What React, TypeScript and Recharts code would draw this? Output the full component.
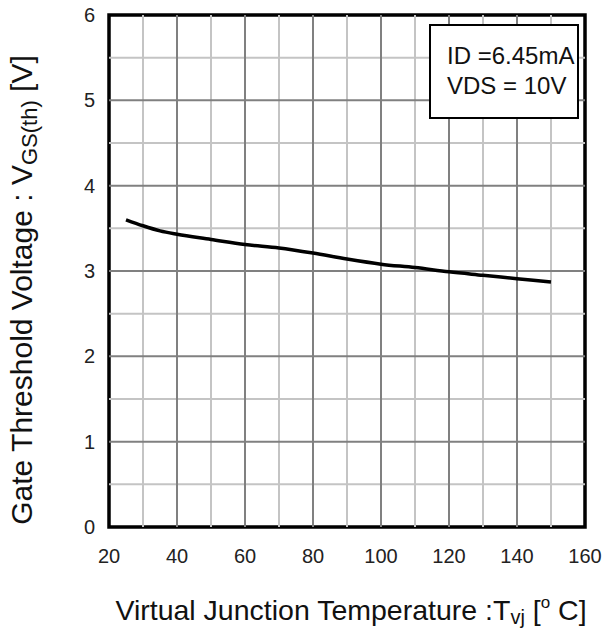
import React from "react";
import { LineChart, Line, XAxis, YAxis, ReferenceLine, ReferenceArea } from "recharts";

const temps = [25, 30, 35, 40, 50, 60, 70, 80, 90, 100, 110, 120, 130, 140, 150];
const vth = [3.6, 3.53, 3.47, 3.43, 3.37, 3.31, 3.27, 3.21, 3.14, 3.08, 3.04, 2.99, 2.95, 2.91, 2.87];

const xTicks = [20, 40, 60, 80, 100, 120, 140, 160];
const yTicks = [0, 1, 2, 3, 4, 5, 6];
const minorX = [30, 50, 70, 90, 110, 130, 150];
const majorX = [40, 60, 80, 100, 120, 140];
const minorY = [0.5, 1.5, 2.5, 3.5, 4.5, 5.5];
const majorY = [1, 2, 3, 4, 5];
const legendLines = ["ID =6.45mA", "VDS = 10V"];

const data = temps.map((t, i) => ({ t, v: vth[i] }));

const FONT = "'Liberation Sans', Arial, Helvetica, sans-serif";

const XTick = (props: any) => {
  const { x, y, payload } = props;
  return (
    <text x={x} y={y + 36} textAnchor="middle" fontSize={20} fontFamily={FONT} fill="#222">
      {payload.value}
    </text>
  );
};

const YTick = (props: any) => {
  const { x, y, payload } = props;
  return (
    <text x={x - 14} y={y + 7} textAnchor="end" fontSize={20} fontFamily={FONT} fill="#222">
      {payload.value}
    </text>
  );
};

export default function App() {
  return (
    <div style={{ position: "absolute", left: 0, top: 0, width: 603, height: 630, background: "#fff" }}>
      <LineChart width={603} height={630} data={data} margin={{ top: 15, right: 18, left: 0, bottom: 0 }}>
        <XAxis
          type="number"
          dataKey="t"
          domain={[20, 160]}
          ticks={xTicks}
          axisLine={false}
          tickLine={false}
          tickSize={0}
          tickMargin={0}
          height={103}
          tick={<XTick />}
          interval={0}
        />
        <YAxis
          type="number"
          domain={[0, 6]}
          ticks={yTicks}
          axisLine={false}
          tickLine={false}
          tickSize={0}
          tickMargin={0}
          width={109}
          tick={<YTick />}
          interval={0}
        />
        {minorX.map((v) => (
          <ReferenceLine key={"mx" + v} x={v} stroke="#c4c4c4" strokeWidth={2} />
        ))}
        {minorY.map((v) => (
          <ReferenceLine key={"my" + v} y={v} stroke="#c4c4c4" strokeWidth={2} />
        ))}
        {majorX.map((v) => (
          <ReferenceLine key={"Mx" + v} x={v} stroke="#808080" strokeWidth={2} />
        ))}
        {majorY.map((v) => (
          <ReferenceLine key={"My" + v} y={v} stroke="#808080" strokeWidth={2} />
        ))}
        <ReferenceArea x1={20} x2={160} y1={0} y2={6} fill="none" fillOpacity={0} stroke="#000" strokeWidth={3.5} />
        <Line
          type="monotone"
          dataKey="v"
          stroke="#000"
          strokeWidth={3.5}
          dot={false}
          isAnimationActive={false}
        />
      </LineChart>
      <svg width={603} height={630} style={{ position: "absolute", left: 0, top: 0, pointerEvents: "none" }}>
        <text
          x={32}
          y={290}
          transform="rotate(-90, 32, 290)"
          textAnchor="middle"
          fontSize={30}
          fontFamily={FONT}
          fill="#111"
        >
          Gate Threshold Voltage : V
          <tspan dy={5} fontSize={22}>GS(th)</tspan>
          <tspan dy={-5}> [V]</tspan>
        </text>
        <text x={351} y={620} textAnchor="middle" fontSize={28.5} fontFamily={FONT} fill="#111">
          Virtual Junction Temperature :T
          <tspan dy={4} fontSize={20}>vj</tspan>
          <tspan dy={-4}> [</tspan>
          <tspan dy={-12} fontSize={17}>o</tspan>
          <tspan dy={12}> C]</tspan>
        </text>
      </svg>
      <div
        style={{
          position: "absolute",
          left: 429,
          top: 24,
          width: 150,
          height: 95,
          boxSizing: "border-box",
          border: "2.5px solid #000",
          background: "#fff",
          fontFamily: FONT,
          fontSize: 24,
          color: "#111",
          paddingLeft: 16,
          paddingTop: 15,
          lineHeight: "30px",
        }}
      >
        {legendLines.map((l) => (
          <div key={l} style={{ whiteSpace: "nowrap" }}>{l}</div>
        ))}
      </div>
    </div>
  );
}
